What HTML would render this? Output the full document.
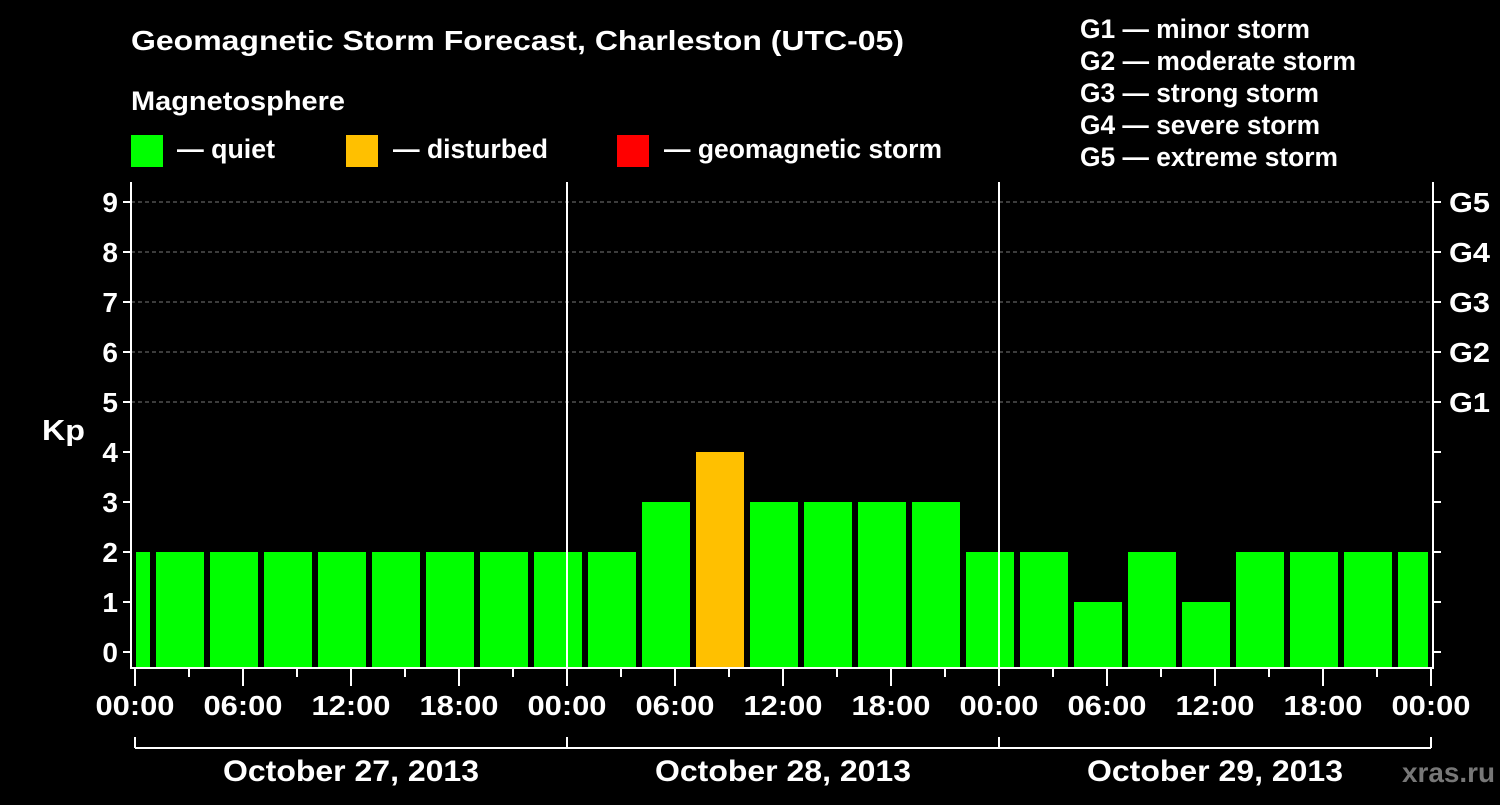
<!DOCTYPE html>
<html><head><meta charset="utf-8"><style>
body{margin:0;background:#000;width:1500px;height:800px;overflow:hidden}
svg text{font-family:"Liberation Sans",Arial,sans-serif;font-weight:bold;fill:#fff}
</style></head><body>
<svg id="c" width="1500" height="800">
<text x="131" y="50" font-size="28" textLength="773" lengthAdjust="spacingAndGlyphs">Geomagnetic Storm Forecast, Charleston (UTC-05)</text>
<text x="131" y="110" font-size="27" textLength="214" lengthAdjust="spacingAndGlyphs">Magnetosphere</text>
<g><rect x="131" y="135" width="32" height="32" fill="#00ff00"/><text x="177" y="158" font-size="27" textLength="98" lengthAdjust="spacingAndGlyphs">— quiet</text></g>
<g><rect x="346" y="135" width="32" height="32" fill="#ffc000"/><text x="393" y="158" font-size="27" textLength="155" lengthAdjust="spacingAndGlyphs">— disturbed</text></g>
<g><rect x="617" y="135" width="32" height="32" fill="#ff0000"/><text x="664" y="158" font-size="27" textLength="278" lengthAdjust="spacingAndGlyphs">— geomagnetic storm</text></g>
<g font-size="27">
<text x="1080" y="38" textLength="230" lengthAdjust="spacingAndGlyphs">G1 — minor storm</text>
<text x="1080" y="70" textLength="276" lengthAdjust="spacingAndGlyphs">G2 — moderate storm</text>
<text x="1080" y="102" textLength="239" lengthAdjust="spacingAndGlyphs">G3 — strong storm</text>
<text x="1080" y="134" textLength="240" lengthAdjust="spacingAndGlyphs">G4 — severe storm</text>
<text x="1080" y="166" textLength="258" lengthAdjust="spacingAndGlyphs">G5 — extreme storm</text></g>
<text x="42" y="440" font-size="29" textLength="43" lengthAdjust="spacingAndGlyphs">Kp</text>
<text x="1402" y="782" font-size="28" textLength="93" lengthAdjust="spacingAndGlyphs" style="fill:#777">xras.ru</text>
<g id="plot"></g>
</svg>
<script>
const kpValues=[2,2,2,2,2,2,2,2,2,2,3,4,3,3,3,3,2,2,1,2,1,2,2,2,2];
const barStartHours=[-2,1,4,7,10,13,16,19,22,25,28,31,34,37,40,43,46,49,52,55,58,61,64,67,70];
const timeLabels=["00:00","06:00","12:00","18:00","00:00","06:00","12:00","18:00","00:00","06:00","12:00","18:00","00:00"];
const dayLabels=["October 27, 2013","October 28, 2013","October 29, 2013"];
const gLabels=["G1","G2","G3","G4","G5"];
const X0=135,PXH=18,Y0=652,PXK=50,L=131,R=1433,T=182,B=668;
const xs=h=>X0+h*PXH, ys=k=>Y0-k*PXK;
const g=document.getElementById('plot'),NS='http://www.w3.org/2000/svg';
function mk(t,a){const e=document.createElementNS(NS,t);for(const k in a)e.setAttribute(k,a[k]);g.appendChild(e);return e;}
for(let k=5;k<=9;k++){const e=mk('line',{x1:L,x2:R,y1:ys(k),y2:ys(k),stroke:'#777','stroke-dasharray':'4,3'});

}
kpValues.forEach((v,i)=>{let x1=Math.max(xs(barStartHours[i])+3,L+5),x2=Math.min(xs(barStartHours[i]+3)-3,R-5);
const col=v>=5?'#ff0000':(v>=4?'#ffc000':'#00ff00');
const e=mk('rect',{x:x1,y:ys(v),width:x2-x1,height:B-ys(v),fill:col});

});
[L,R].forEach(x=>mk('line',{x1:x,x2:x,y1:T,y2:B+1,stroke:'#fff','stroke-width':2}));
[1,2].forEach(d=>mk('line',{x1:xs(24*d),x2:xs(24*d),y1:T,y2:B,stroke:'#fff','stroke-width':2}));
mk('line',{x1:L,x2:R,y1:B,y2:B,stroke:'#fff','stroke-width':2});
for(let k=0;k<=9;k++){mk('line',{x1:L-8,x2:L,y1:ys(k),y2:ys(k),stroke:'#fff','stroke-width':2});
mk('line',{x1:R,x2:R+8,y1:ys(k),y2:ys(k),stroke:'#fff','stroke-width':2});
const t=mk('text',{x:L-13,y:ys(k)+10,'font-size':28,'text-anchor':'end'});t.textContent=k;

}
gLabels.forEach((s,i)=>{const t=mk('text',{x:1449,y:ys(5+i)+10,'font-size':28,textLength:41,lengthAdjust:'spacingAndGlyphs'});t.textContent=s;

});
for(let h=0;h<=72;h+=3){mk('line',{x1:xs(h),x2:xs(h),y1:B,y2:B+(h%6?9:18),stroke:'#fff','stroke-width':2});}
timeLabels.forEach((s,i)=>{const t=mk('text',{x:xs(i*6),y:715,'font-size':28,'text-anchor':'middle',textLength:79,lengthAdjust:'spacingAndGlyphs'});t.textContent=s;

});
mk('line',{x1:xs(0),x2:xs(72),y1:748,y2:748,stroke:'#fff','stroke-width':2});
for(let d=0;d<=3;d++)mk('line',{x1:xs(24*d),x2:xs(24*d),y1:737,y2:748,stroke:'#fff','stroke-width':2});
dayLabels.forEach((s,i)=>{const t=mk('text',{x:xs(24*i+12),y:781,'font-size':30,'text-anchor':'middle',textLength:256,lengthAdjust:'spacingAndGlyphs'});t.textContent=s;

});
</script>
</body></html>
